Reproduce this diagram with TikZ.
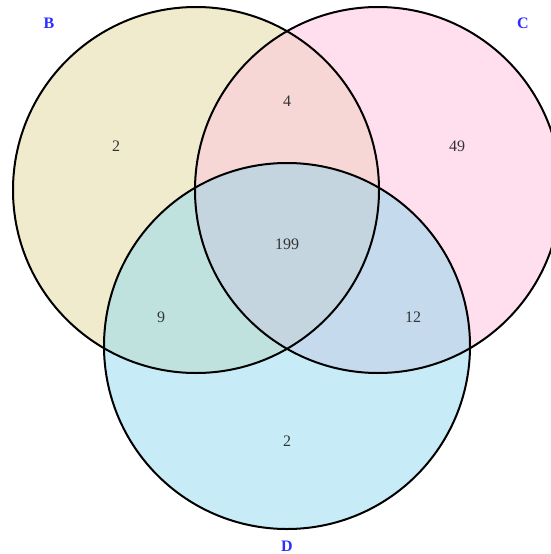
\documentclass[tikz,border=0pt]{standalone}
\usepackage{fontspec}
\setmainfont{Liberation Serif}
\usetikzlibrary{positioning}

\definecolor{colB}{RGB}{240,235,205}
\definecolor{colC}{RGB}{255,223,238}
\definecolor{colD}{RGB}{200,236,247}
\definecolor{colBC}{RGB}{247,214,214}
\definecolor{colBD}{RGB}{192,226,222}
\definecolor{colCD}{RGB}{198,218,238}
\definecolor{colBCD}{RGB}{197,213,224}
\definecolor{setblue}{RGB}{45,45,255}

\begin{document}
\begin{tikzpicture}[x=1pt, y=-1pt, line cap=round, line join=round,
    num/.style={font=\fontsize{16}{16}\selectfont, text=black!80},
    setlabel/.style={font=\fontsize{16}{16}\selectfont\bfseries, text=setblue, inner sep=0pt}]

  % Parámetros
  \def\R{183}   % radio de los círculos

  \useasboundingbox (0,0) rectangle (550,554);

  % --- Centros ---
  \coordinate (Bc) at (196,190);
  \coordinate (Cc) at (378,190);
  \coordinate (Dc) at (287,346);

  % --- Regiones ---
  \fill[colB] (Bc) circle (\R);
  \fill[colC] (Cc) circle (\R);
  \fill[colD] (Dc) circle (\R);
  \begin{scope}
    \clip (Bc) circle (\R);
    \fill[colBC] (Cc) circle (\R);
    \fill[colBD] (Dc) circle (\R);
  \end{scope}
  \begin{scope}
    \clip (Cc) circle (\R);
    \fill[colCD] (Dc) circle (\R);
    \clip (Bc) circle (\R);
    \fill[colBCD] (Dc) circle (\R);
  \end{scope}

  % --- Bordes ---
  \draw[line width=2pt] (Bc) circle (\R);
  \draw[line width=2pt] (Cc) circle (\R);
  \draw[line width=2pt] (Dc) circle (\R);

  % --- Valores ---
  \node[num] (nB)   at (116,146) {2};
  \node[num] (nBC)  at (287,101) {4};
  \node[num] (nC)   at (457,146) {49};
  \node[num] (nBCD) at (287,244) {199};
  \node[num] (nBD)  at (161,317) {9};
  \node[num] (nCD)  at (413,317) {12};
  \node[num] (nD)   at (287,441) {2};

  % --- Nombres de los conjuntos ---
  \node[setlabel] (lB) at (49,23) {B};
  \node[setlabel] (lC) at (523,23) {C};
  \node[setlabel] (lD) at (287,546) {D};

\end{tikzpicture}
\end{document}
